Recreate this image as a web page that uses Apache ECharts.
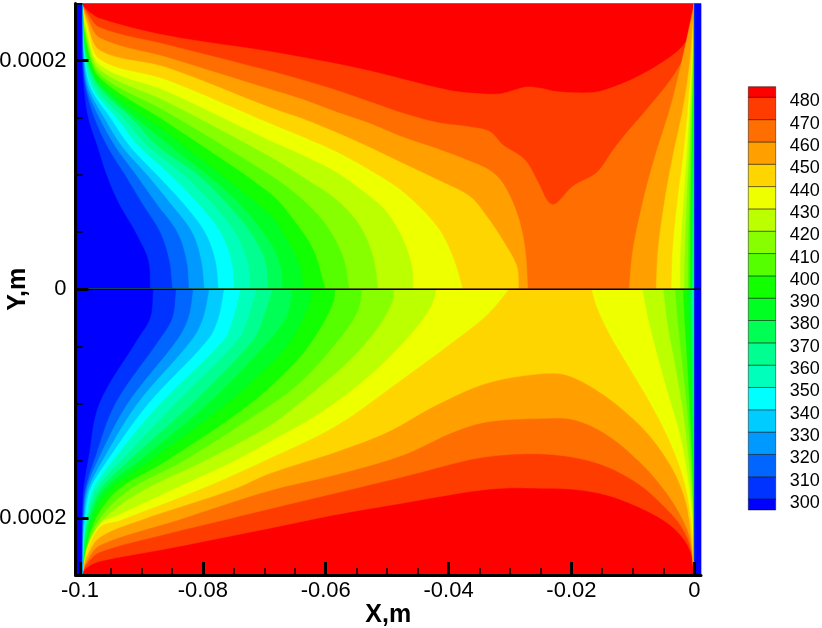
<!DOCTYPE html>
<html>
<head>
<meta charset="utf-8">
<script src="https://cdn.jsdelivr.net/npm/echarts@6/dist/echarts.min.js"></script>
<style>
html,body{margin:0;padding:0;background:#fff;}
#chart{width:822px;height:628px;}
</style>
</head>
<body>
<div id="chart"></div>
<script>
// contour levels and the colour of each band, lowest band first
const levels = [300,310,320,330,340,350,360,370,380,390,400,410,420,430,440,450,460,470,480];
const bandColors = ['#0000ff','#0033ff','#0066ff','#0099ff','#00ccff','#00ffff','#00ffbb','#00ff90','#00ff55','#00ff22',
  '#11ff00','#55ff00','#88ff00','#bbff00','#eeff00','#ffd500','#ffa000','#ff6e00','#ff3c00','#ff0000'];
const xMajor = [-0.1,-0.08,-0.06,-0.04,-0.02,0];
const xMinor = [-0.095,-0.09,-0.085,-0.075,-0.07,-0.065,-0.055,-0.05,-0.045,-0.035,-0.03,-0.025,-0.015,-0.01,-0.005];
const yMajor = [-0.0002,0,0.0002];
const yMinor = [-0.00025,-0.00015,-0.0001,-0.00005,0.00005,0.0001,0.00015,0.00025];

// contours, x in mm, y in micrometres
// upper half, low levels: x at each of these heights
const upperRowY = [0,25,50,75,100,125,150,175,200,236,250];
const upper300 = [-88.6,-88.9,-91.0,-93.7,-95.7,-97.2,-98.7,-99.4,-99.7,-99.7,-99.7];
const upper310 = [-85.0,-85.5,-87.0,-89.9,-92.7,-95.6,-97.7,-99.1,-99.6,-99.7,-99.7];
const upper320 = [-82.3,-82.7,-84.2,-87.6,-90.9,-94.3,-96.9,-98.9,-99.5,-99.7,-99.7];
const upper330 = [-79.8,-80.3,-81.8,-85.3,-89.1,-93.2,-96.1,-98.6,-99.4,-99.7,-99.7];
const upper340 = [-77.5,-78.0,-79.7,-83.2,-87.5,-91.9,-95.1,-98.2,-99.3,-99.7,-99.7];
const upper350 = [-74.9,-75.4,-77.2,-80.8,-85.3,-90.4,-94.1,-97.9,-99.2,-99.7,-99.7];
const upper360 = [-72.3,-72.8,-74.8,-78.5,-83.1,-88.9,-93.0,-97.4,-99.0,-99.7,-99.7];
const upper370 = [-69.4,-69.9,-72.3,-76.1,-80.8,-87.3,-91.7,-96.7,-98.9,-99.7,-99.7];
// upper half, higher levels from the corner down to y=0
const upper380 = [[-99.7,250],[-99,205],[-96.8,178],[-85.9,128],[-75,80],[-69.1,41],[-67.4,20],[-67,0]];
const upper390 = [[-99.7,250],[-99,210],[-96.8,181],[-85.9,137],[-69.1,65],[-66.3,43],[-64.2,20],[-63.7,0]];
const upper400 = [[-99.7,250],[-99,215],[-96.8,185],[-85.9,146],[-69.1,84],[-65.3,61],[-62,34],[-60.1,0]];
const upper410 = [[-99.7,250],[-99,219],[-96.8,188],[-85.9,155],[-69.1,100],[-63.7,78],[-59.8,55],[-57.2,28],[-56.2,0]];
const upper420 = [[-99.7,250],[-99,223],[-96.8,192],[-85.9,164],[-69.1,116],[-63.7,98],[-58.2,78],[-54.4,55],[-52.3,28],[-51.5,0]];
const upper430 = [[-99.7,250],[-99,228],[-96.8,196],[-85.9,173],[-69.1,130],[-63.7,117],[-58.2,102],[-52.8,81],[-50,67],[-47.4,43],[-46,20],[-45.8,0]];
const upper440 = [[-99.7,250],[-99,232],[-96.8,201],[-85.9,183],[-69.1,145],[-63.7,133],[-58.2,120],[-52.8,104],[-47.4,85],[-41.9,55],[-39.3,28],[-37.7,0]];
const upper450 = [[-99.7,250],[-99,236],[-96.8,209],[-85.9,194],[-69.1,159],[-63.7,149],[-58.2,137],[-52.8,124],[-47.4,110],[-41.9,96],[-36.5,81],[-33.7,63],[-31.2,43],[-28.9,20],[-28.6,0]];
const upper460 = [[-99.7,250],[-99,240],[-96.8,220],[-85.9,203],[-69.1,175],[-63.7,166],[-58.2,155],[-52.8,145],[-47.4,133],[-41.9,123],[-36.5,112],[-33.3,104],[-31.2,93],[-28.9,67],[-27.6,37],[-27.1,0]];
const upper470 = [[-99.7,250],[-99,243],[-96.8,229],[-85.9,214],[-69.1,191],[-63.7,183],[-58.2,174],[-52.8,164],[-47.4,154],[-41.9,146],[-36.5,142],[-33.3,138],[-31.1,126],[-28.4,117],[-27.1,110],[-25.1,90],[-24,78],[-23,74],[-21.9,78],[-19.8,90],[-15.9,102],[-13.2,122],[-11,137],[-7.8,157],[-3.5,186],[-1.2,209],[-0.2,233],[0,250]];
const upper480 = [[-99.7,250],[-99,245],[-96.8,237],[-85.9,222],[-69.1,208],[-54.4,193],[-39.8,174],[-34.4,171],[-31.6,171],[-29.5,174],[-27.3,177],[-25.1,176],[-22.4,173],[-17,172],[-14.2,175],[-8.9,187],[-3.5,205],[-1.2,218],[-0.2,236],[0,250]];
// upper half, right wall: x at each of these heights
const upperRightY = [0,34,78,116,159,200,250];
const upperRight460 = [-10.6,-10.0,-8.3,-6.4,-3.9,-2.0,0];
const upperRight450 = [-6.2,-5.9,-4.8,-3.5,-1.8,-0.7,0];
const upperRight440 = [-3.7,-3.5,-2.7,-1.8,-1.0,-0.4,0];
const upperRight430 = [-2.3,-2.2,-1.7,-1.2,-0.7,-0.3,0];
const upperRight420 = [-1.6,-1.5,-1.2,-0.85,-0.5,-0.2,0];
const upperRight410 = [-1.0,-0.95,-0.8,-0.6,-0.35,-0.15,0];
const upperRight400 = [-0.7,-0.65,-0.55,-0.4,-0.25,-0.1,0];
const upperRight390 = [-0.5,-0.45,-0.4,-0.3,-0.18,-0.07,0];
const upperRight380 = [-0.35,-0.32,-0.27,-0.2,-0.12,-0.05,0];
const upperRight360 = [-0.2,-0.18,-0.15,-0.11,-0.07,-0.03,0];

// lower half, low levels
const lowerRowY = [0,-25,-44,-100,-149,-175,-199,-225,-250];
const lower300 = [-88.1,-88.6,-90.7,-96.9,-98.7,-99.5,-99.7,-99.7,-99.7];
const lower310 = [-84.4,-85.0,-87.1,-94.3,-97.7,-99.2,-99.6,-99.7,-99.7];
const lower320 = [-81.6,-82.4,-84.2,-92.3,-97.1,-99.0,-99.5,-99.7,-99.7];
const lower330 = [-79.0,-80.0,-81.8,-90.7,-96.3,-98.7,-99.4,-99.7,-99.7];
const lower340 = [-76.6,-77.5,-79.2,-88.9,-95.5,-98.4,-99.2,-99.6,-99.7];
const lower350 = [-73.9,-75.1,-76.6,-87.0,-94.6,-97.9,-99.0,-99.5,-99.7];
const lower360 = [-71.3,-72.7,-74.3,-84.5,-93.2,-97.4,-98.8,-99.5,-99.7];
const lower370 = [-68.7,-70.2,-71.8,-81.8,-91.9,-96.7,-98.6,-99.4,-99.7];
// lower half, higher levels from the corner up to y=0
const lower380 = [[-99.7,-250],[-99.2,-225],[-98.3,-199],[-96.1,-175],[-90.2,-149],[-79.2,-100],[-69.1,-44],[-66.3,-22],[-65.5,0]];
const lower390 = [[-99.7,-250],[-99.1,-225],[-97.9,-199],[-95.1,-175],[-88.3,-149],[-76.1,-100],[-69.1,-66],[-65.8,-46],[-62.9,-16],[-62.2,0]];
const lower400 = [[-99.7,-250],[-99,-225],[-97.3,-199],[-93.8,-175],[-85.7,-149],[-72.3,-100],[-64.7,-62],[-60.9,-34],[-58.8,-11],[-58.5,0]];
const lower410 = [[-99.7,-250],[-98.9,-225],[-96.6,-199],[-91.9,-175],[-82.9,-149],[-68.7,-100],[-63.7,-79],[-58.2,-46],[-54.9,-20],[-54.1,0]];
const lower420 = [[-99.7,-250],[-98.9,-225],[-95.8,-199],[-89.4,-175],[-79.4,-149],[-69.1,-119],[-63.7,-97],[-56.5,-64],[-51.6,-34],[-49.2,-11],[-48.9,0]];
const lower430 = [[-99.7,-250],[-98.9,-226],[-96.8,-204],[-94.5,-199],[-84.9,-175],[-74.5,-149],[-69.1,-133],[-60.9,-108],[-52.8,-75],[-46.3,-40],[-43,-16],[-42,0]];
const lower440 = [[-99.7,-250],[-99,-231],[-96.8,-208],[-93.5,-202],[-80.5,-175],[-69.6,-149],[-58.2,-119],[-47.4,-78],[-39.3,-46],[-33.7,-22],[-30.2,0]];
const lower450 = [[-99.7,-250],[-99,-235],[-96.8,-217],[-90.2,-202],[-75.1,-175],[-69.1,-161],[-58.2,-142],[-50,-125],[-41.9,-101],[-33.7,-82],[-25.2,-74],[-20.8,-75],[-15.4,-90],[-10,-113],[-6.1,-136],[-2.8,-165],[-1,-195],[0,-250]];
const lower460 = [[-99.7,-250],[-99,-239],[-96.8,-224],[-84.2,-202],[-69.1,-176],[-58.2,-162],[-47.4,-145],[-39.3,-125],[-33.7,-116],[-25.2,-113],[-19.7,-114],[-14.3,-127],[-8.9,-151],[-5.1,-174],[-2.3,-197],[-0.7,-218],[0,-250]];
const lower470 = [[-99.7,-250],[-99,-241],[-96.8,-230],[-85.9,-214],[-76.7,-202],[-69.1,-192],[-58.2,-178],[-47.4,-164],[-36.5,-149],[-31.2,-145],[-25.2,-144],[-19.7,-147],[-14.3,-155],[-8.9,-171],[-5.1,-189],[-2.3,-206],[-0.7,-224],[0,-250]];
const lower480 = [[-99.7,-250],[-99,-244],[-96.8,-238],[-85.9,-227],[-69.1,-209],[-58.2,-197],[-47.4,-187],[-36.5,-177],[-31.2,-174],[-25.2,-174],[-19.7,-175],[-14.3,-180],[-8.9,-191],[-4.5,-204],[-1.8,-218],[-0.4,-233],[0,-250]];
// lower half, right wall
const lowerRight440 = [[-16.7,0],[-15.8,-16],[-13.7,-40],[-10.5,-69],[-7.2,-99],[-4.5,-127],[-2.3,-156],[-1,-183],[-0.2,-218],[0,-250]];
const lowerRight430 = [[-8.4,0],[-7.5,-25],[-6.1,-55],[-4.3,-90],[-2.3,-127],[-1,-165],[-0.2,-206],[0,-250]];
const lowerRightY = [0,-31,-66,-107,-148,-195,-250];
const lowerRight420 = [-5,-4.3,-3.1,-1.8,-0.9,-0.2,0];
const lowerRight410 = [-3.1,-2.6,-1.9,-1.1,-0.55,-0.15,0];
const lowerRight400 = [-1.8,-1.5,-1.1,-0.7,-0.35,-0.1,0];
const lowerRight390 = [-1.0,-0.85,-0.6,-0.4,-0.2,-0.05,0];
const lowerRight380 = [-0.6,-0.5,-0.35,-0.25,-0.12,-0.03,0];
const lowerRight360 = [-0.3,-0.25,-0.18,-0.12,-0.06,-0.02,0];

const xMin = -100.73, xMax = 1.09;

function zip(ys, xs){ return ys.map((y,i)=>[xs[i],y]); }
let pieces = [];
function leftPiece(level, curve){
  let yEnd = curve[0][1];
  pieces.push({level:level, curve:curve, close:[[xMin,0],[xMin,yEnd]]});
}
function rightPiece(level, curve){
  pieces.push({level:level, curve:curve, close:[[0,0]]});
}
function widePiece(level, curve){
  let yEnd = curve[0][1];
  pieces.push({level:level, curve:curve, close:[[0,0],[xMin,0],[xMin,yEnd]]});
}

// painted from the highest level down, each piece is the region below its level
pieces.push({color:bandColors[19], curve:[], close:[[xMin,0],[xMin,250],[0,250],[0,0]]});
widePiece(480, upper480);
widePiece(470, upper470);
leftPiece(460, upper460);
rightPiece(460, zip(upperRightY, upperRight460));
leftPiece(450, upper450);
rightPiece(450, zip(upperRightY, upperRight450));
leftPiece(440, upper440);
rightPiece(440, zip(upperRightY, upperRight440));
leftPiece(430, upper430);
rightPiece(430, zip(upperRightY, upperRight430));
leftPiece(420, upper420);
rightPiece(420, zip(upperRightY, upperRight420));
leftPiece(410, upper410);
rightPiece(410, zip(upperRightY, upperRight410));
leftPiece(400, upper400);
rightPiece(400, zip(upperRightY, upperRight400));
leftPiece(390, upper390);
rightPiece(390, zip(upperRightY, upperRight390));
leftPiece(380, upper380);
rightPiece(380, zip(upperRightY, upperRight380));
rightPiece(360, zip(upperRightY, upperRight360));
[[370,upper370],[360,upper360],[350,upper350],[340,upper340],[330,upper330],[320,upper320],[310,upper310],[300,upper300]]
  .forEach(r=>leftPiece(r[0], zip(upperRowY, r[1]).reverse()));

pieces.push({color:bandColors[19], curve:[], close:[[xMin,0],[xMin,-250],[0,-250],[0,0]]});
widePiece(480, lower480);
widePiece(470, lower470);
widePiece(460, lower460);
widePiece(450, lower450);
leftPiece(440, lower440);
rightPiece(440, lowerRight440);
leftPiece(430, lower430);
rightPiece(430, lowerRight430);
rightPiece(420, zip(lowerRightY, lowerRight420));
rightPiece(410, zip(lowerRightY, lowerRight410));
rightPiece(400, zip(lowerRightY, lowerRight400));
rightPiece(390, zip(lowerRightY, lowerRight390));
rightPiece(380, zip(lowerRightY, lowerRight380));
rightPiece(360, zip(lowerRightY, lowerRight360));
leftPiece(420, lower420);
leftPiece(410, lower410);
leftPiece(400, lower400);
leftPiece(390, lower390);
leftPiece(380, lower380);
[[370,lower370],[360,lower360],[350,lower350],[340,lower340],[330,lower330],[320,lower320],[310,lower310],[300,lower300]]
  .forEach(r=>leftPiece(r[0], zip(lowerRowY, r[1]).reverse()));
// the wall on the right is below the lowest level
pieces.push({color:bandColors[0], curve:[], close:[[0,-250],[xMax,-250],[xMax,250],[0,250]]});

function toAxis(p){ return [p[0]/1000, p[1]/1e6]; }

// rounds the read points off, only for drawing
function spline(pts){
  if(pts.length<3) return pts;
  let out = [];
  let dist = (a,b)=>Math.hypot(a[0]-b[0],a[1]-b[1])||1e-6;
  for(let i=0;i<pts.length-1;i++){
    let p0=pts[Math.max(i-1,0)], p1=pts[i], p2=pts[i+1], p3=pts[Math.min(i+2,pts.length-1)];
    let d0=dist(p0,p1), d1=dist(p1,p2), d2=dist(p2,p3);
    let c1=[0,1].map(d=>p1[d]+(p2[d]-p0[d])/(d0+d1)*d1/3);
    let c2=[0,1].map(d=>p2[d]-(p3[d]-p1[d])/(d1+d2)*d1/3);
    for(let k=0;k<8;k++){
      let t=k/8, u=1-t;
      out.push([0,1].map(d=>u*u*u*p1[d]+3*u*u*t*c1[d]+3*u*t*t*c2[d]+t*t*t*p2[d]));
    }
  }
  out.push(pts[pts.length-1]);
  return out;
}

function renderContour(params, api){
  let piece = pieces[params.dataIndex];
  let color = piece.color || bandColors[levels.indexOf(piece.level)];
  let points = spline(piece.curve.map(p=>api.coord(toAxis(p))))
    .concat(piece.close.map(p=>api.coord(toAxis(p))));
  return {type:'polygon', shape:{points:points}, style:{fill:color, stroke:color, lineWidth:0.5}};
}

// colour key: one block per band, between neighbouring levels
const keyEdges = [295.1].concat(levels, [484.75]);
function renderKey(params, api){
  let i = params.dataIndex;
  let a = api.coord([0, keyEdges[i]]), b = api.coord([1, keyEdges[i+1]]);
  return {type:'rect', shape:{x:a[0], y:b[1], width:b[0]-a[0], height:a[1]-b[1]},
    style:{fill:bandColors[i], stroke:'rgba(0,0,0,0.45)', lineWidth:1}};
}

const font = 'Liberation Sans';
let chart = echarts.init(document.getElementById('chart'));
chart.setOption({
  animation:false,
  backgroundColor:'#fff',
  grid:[
    {left:75.5, top:3.6, width:625.5, height:571.4, outerBoundsMode:'none', show:true, borderColor:'#ccc', borderWidth:1, backgroundColor:'transparent'},
    {left:748.3, top:86.7, width:27.4, height:423.3, outerBoundsMode:'none'}
  ],
  xAxis:[
    {type:'value', gridIndex:0, min:xMin/1000, max:xMax/1000, position:'bottom', z:5,
      name:'X,m', nameLocation:'middle', nameGap:28, nameMoveOverlap:false,
      nameTextStyle:{fontFamily:font, fontSize:25, fontWeight:'bold', color:'#000'},
      splitLine:{show:false},
      axisLine:{show:true, onZero:false, lineStyle:{color:'#000', width:3}},
      axisTick:{show:true, inside:true, length:13, customValues:xMajor, lineStyle:{color:'#000', width:3}},
      axisLabel:{show:true, margin:5, customValues:xMajor, fontFamily:font, fontSize:22, color:'#000', formatter:v=>String(v)}},
    {type:'value', gridIndex:0, min:xMin/1000, max:xMax/1000, position:'bottom', z:5,
      splitLine:{show:false}, axisLine:{show:false, onZero:false},
      axisTick:{show:true, inside:true, length:7, customValues:xMinor, lineStyle:{color:'#000', width:1.5}},
      axisLabel:{show:false}},
    {type:'value', gridIndex:1, min:0, max:1, show:false}
  ],
  yAxis:[
    {type:'value', gridIndex:0, min:-0.00025, max:0.00025, position:'left', z:5,
      name:'Y,m', nameLocation:'middle', nameGap:45, nameRotate:90, nameMoveOverlap:false,
      nameTextStyle:{fontFamily:font, fontSize:25, fontWeight:'bold', color:'#000'},
      splitLine:{show:false},
      axisLine:{show:true, onZero:false, lineStyle:{color:'#000', width:3}},
      axisTick:{show:true, inside:true, length:13, customValues:yMajor, lineStyle:{color:'#000', width:3}},
      axisLabel:{show:true, margin:9, customValues:yMajor, fontFamily:font, fontSize:22, color:'#000', formatter:v=>String(v)}},
    {type:'value', gridIndex:0, min:-0.00025, max:0.00025, position:'left', z:5,
      splitLine:{show:false}, axisLine:{show:false, onZero:false},
      axisTick:{show:true, inside:true, length:7, customValues:yMinor, lineStyle:{color:'#000', width:1.5}},
      axisLabel:{show:false}},
    {type:'value', gridIndex:1, min:keyEdges[0], max:keyEdges[keyEdges.length-1], position:'right', z:5,
      splitLine:{show:false}, axisLine:{show:false, onZero:false},
      axisTick:{show:false},
      axisLabel:{show:true, margin:14, align:'left', verticalAlign:'top', lineHeight:8, customValues:levels, fontFamily:font, fontSize:18, color:'#000',
        formatter:v=>String(v)}}
  ],
  series:[
    {type:'custom', xAxisIndex:0, yAxisIndex:0, z:1, silent:true, clip:false,
      renderItem:renderContour, data:pieces.map((p,i)=>[i])},
    {type:'line', xAxisIndex:0, yAxisIndex:0, z:3, silent:true, symbol:'none',
      lineStyle:{color:'#000', width:1.5}, data:[[xMin/1000,0],[xMax/1000,0]]},
    {type:'custom', xAxisIndex:2, yAxisIndex:2, z:1, silent:true,
      renderItem:renderKey, data:bandColors.map((c,i)=>[i])}
  ]
});
</script>
</body>
</html>
